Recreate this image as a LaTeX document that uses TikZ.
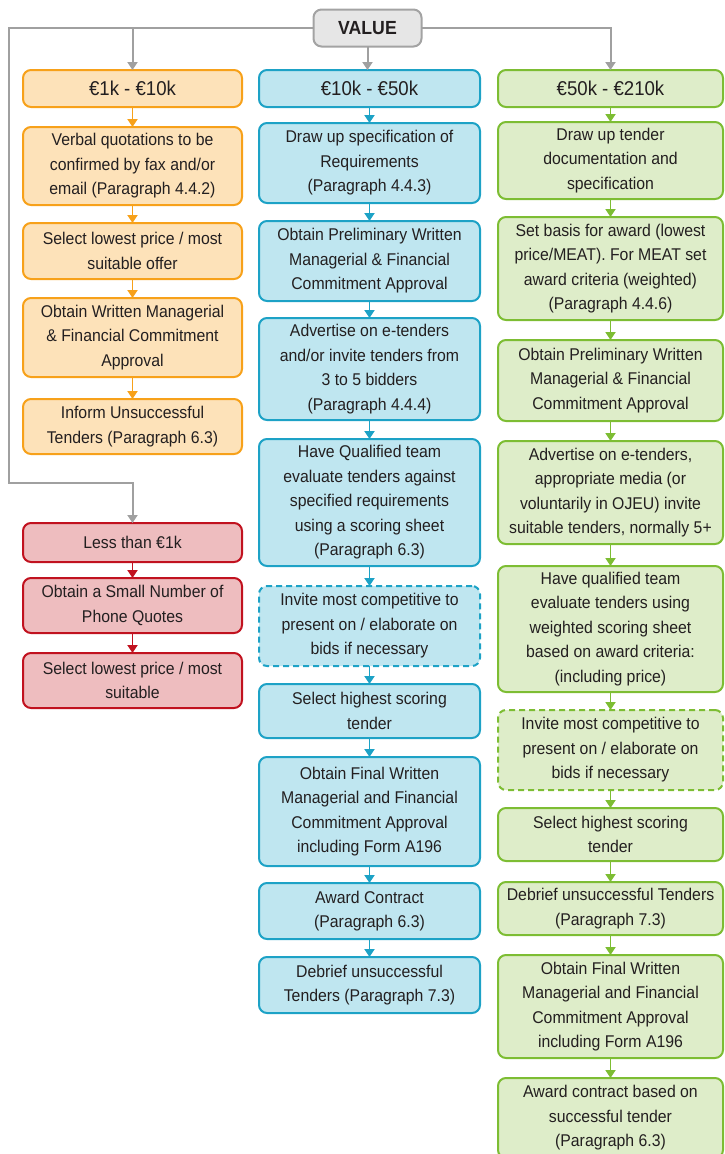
\documentclass[tikz,border=0pt]{standalone}
\usepackage{fontspec}
\setmainfont[FakeStretch=0.93]{Liberation Sans}
\usetikzlibrary{arrows.meta}
\definecolor{txt}{HTML}{231F20}
\definecolor{orB}{HTML}{F7A11A}
\definecolor{orF}{HTML}{FDE2B9}
\definecolor{blB}{HTML}{1DA2C6}
\definecolor{blF}{HTML}{BFE6F0}
\definecolor{grB}{HTML}{7DBD33}
\definecolor{grF}{HTML}{DEEDC9}
\definecolor{rdB}{HTML}{C1121F}
\definecolor{rdF}{HTML}{EEBDBF}
\definecolor{gyB}{HTML}{A3A3A3}
\definecolor{gyF}{HTML}{E6E6E6}
\definecolor{gyL}{HTML}{A0A0A0}
\tikzset{
 box/.style={draw, line width=2pt, rounded corners=8pt, align=center, inner sep=0pt, outer sep=0pt, text=txt, font=\fontsize{17}{24.5}\selectfont},
 obox/.style={box, draw=orB, fill=orF, minimum width=219pt},
 bbox/.style={box, draw=blB, fill=blF, minimum width=221pt},
 gbox/.style={box, draw=grB, fill=grF, minimum width=225pt},
 rbox/.style={box, draw=rdB, fill=rdF, minimum width=219pt},
 dashbox/.style={dash pattern=on 6pt off 4pt},
 head/.style={font=\fontsize{20}{24}\selectfont, minimum height=37pt},
 arr/.style={line width=1.8pt, -{Triangle[width=10pt,length=8pt]}},
 garr/.style={arr, draw=gyL, line width=2pt},
}
\begin{document}
\begin{tikzpicture}[x=1pt,y=-1pt]
\useasboundingbox (0,0) rectangle (724,1154);
% value
\node[box, draw=gyB, fill=gyF, minimum width=108pt, minimum height=37pt, font=\fontsize{19}{22}\selectfont\bfseries] (val) at (367.5,28) {VALUE};
% column 1
\node[obox, head] (h1) at (132.5,88.5) {€1k - €10k};
\node[obox, minimum height=78pt] (o1) at (132.5,166) {Verbal quotations to be\\confirmed by fax and/or\\email (Paragraph 4.4.2)};
\node[obox, minimum height=56pt] (o2) at (132.5,251) {Select lowest price / most\\suitable offer};
\node[obox, minimum height=79pt] (o3) at (132.5,337.5) {Obtain Written Managerial\\\& Financial Commitment\\Approval};
\node[obox, minimum height=55pt] (o4) at (132.5,426.5) {Inform Unsuccessful\\Tenders (Paragraph 6.3)};
\node[rbox, minimum height=39pt] (r1) at (132.5,542.5) {Less than €1k};
\node[rbox, minimum height=55pt] (r2) at (132.5,605.5) {Obtain a Small Number of\\Phone Quotes};
\node[rbox, minimum height=55pt] (r3) at (132.5,680.5) {Select lowest price / most\\suitable};
% column 2
\node[bbox, head] (h2) at (369.5,88.5) {€10k - €50k};
\node[bbox, minimum height=80pt] (b1) at (369.5,163) {Draw up specification of\\Requirements\\(Paragraph 4.4.3)};
\node[bbox, minimum height=80pt] (b2) at (369.5,261) {Obtain Preliminary Written\\Managerial \& Financial\\Commitment Approval};
\node[bbox, minimum height=102pt] (b3) at (369.5,369) {Advertise on e-tenders\\and/or invite tenders from\\3 to 5 bidders\\(Paragraph 4.4.4)};
\node[bbox, minimum height=127pt] (b4) at (369.5,502.5) {Have Qualified team\\evaluate tenders against\\specified requirements\\using a scoring sheet\\(Paragraph 6.3)};
\node[bbox, dashbox, minimum height=80pt] (b5) at (369.5,626) {Invite most competitive to\\present on / elaborate on\\bids if necessary};
\node[bbox, minimum height=54pt] (b6) at (369.5,711) {Select highest scoring\\tender};
\node[bbox, minimum height=109pt] (b7) at (369.5,811.5) {Obtain Final Written\\Managerial and Financial\\Commitment Approval\\including Form A196};
\node[bbox, minimum height=56pt] (b8) at (369.5,911) {Award Contract\\(Paragraph 6.3)};
\node[bbox, minimum height=56pt] (b9) at (369.5,985) {Debrief unsuccessful\\Tenders (Paragraph 7.3)};
% column 3
\node[gbox, head] (h3) at (610.5,88.5) {€50k - €210k};
\node[gbox, minimum height=77pt] (g1) at (610.5,160.5) {Draw up tender\\documentation and\\specification};
\node[gbox, minimum height=103pt] (g2) at (610.5,268.5) {Set basis for award (lowest\\price/MEAT). For MEAT set\\award criteria (weighted)\\(Paragraph 4.4.6)};
\node[gbox, minimum height=81pt] (g3) at (610.5,380.5) {Obtain Preliminary Written\\Managerial \& Financial\\Commitment Approval};
\node[gbox, minimum height=103pt] (g4) at (610.5,492.5) {Advertise on e-tenders,\\appropriate media (or\\voluntarily in OJEU) invite\\suitable tenders, normally 5+};
\node[gbox, minimum height=126pt] (g5) at (610.5,629) {Have qualified team\\evaluate tenders using\\weighted scoring sheet\\based on award criteria:\\(including price)};
\node[gbox, dashbox, minimum height=80pt] (g6) at (610.5,750) {Invite most competitive to\\present on / elaborate on\\bids if necessary};
\node[gbox, minimum height=53pt] (g7) at (610.5,834.5) {Select highest scoring\\tender};
\node[gbox, minimum height=53pt] (g8) at (610.5,908.5) {Debrief unsuccessful Tenders\\(Paragraph 7.3)};
\node[gbox, minimum height=103pt] (g9) at (610.5,1006.5) {Obtain Final Written\\Managerial and Financial\\Commitment Approval\\including Form A196};
\node[gbox, minimum height=80pt] (g10) at (610.5,1118) {Award contract based on\\successful tender\\(Paragraph 6.3)};
% gray connectors
\draw[garr] (val.west) -| (9,483) -| (r1.north);
\draw[garr] (h1.north |- val.west) -- (h1.north);
\draw[garr] (val.east) -| (h3.north);
\draw[garr] (val.south) -- (val.south |- h2.north);
% column arrows
\foreach \a/\b in {h1/o1,o1/o2,o2/o3,o3/o4} \draw[arr, draw=orB, fill=orB] (\a.south) -- (\b.north);
\foreach \a/\b in {r1/r2,r2/r3} \draw[arr, draw=rdB, fill=rdB] (\a.south) -- (\b.north);
\foreach \a/\b in {h2/b1,b1/b2,b2/b3,b3/b4,b4/b5,b5/b6,b6/b7,b7/b8,b8/b9} \draw[arr, draw=blB, fill=blB] (\a.south) -- (\b.north);
\foreach \a/\b in {h3/g1,g1/g2,g2/g3,g3/g4,g4/g5,g5/g6,g6/g7,g7/g8,g8/g9,g9/g10} \draw[arr, draw=grB, fill=grB] (\a.south) -- (\b.north);
\end{tikzpicture}
\end{document}
